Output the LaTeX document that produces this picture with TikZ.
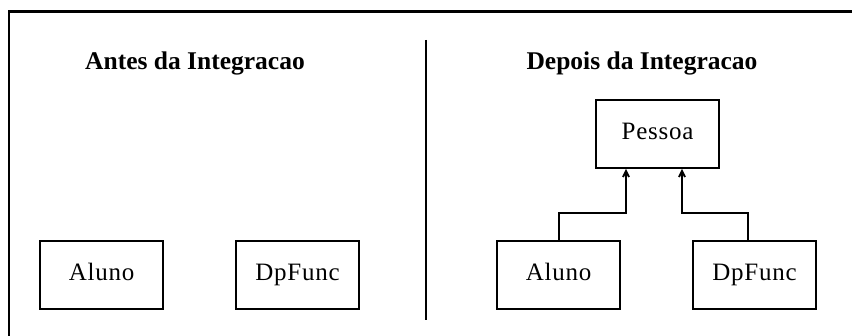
\documentclass[tikz,border=0pt]{standalone}
\usepackage{fontspec}
\setmainfont{Liberation Serif}
\usetikzlibrary{arrows.meta}
\begin{document}
\begin{tikzpicture}[x=1pt,y=-1pt,
  cls/.style={draw, line width=1.9pt, minimum width=123pt, minimum height=68pt, inner sep=0pt,
    text height=16pt, text depth=5pt,
    font=\fontsize{25}{27}\selectfont\addfontfeatures{LetterSpace=3}},
  ttl/.style={font=\fontsize{25.5}{28}\selectfont\bfseries, inner sep=0pt},
  frm/.style={line width=2.2pt},
  gen/.style={line width=1.9pt, -{Straight Barb[length=6pt,width=6pt]}}]
\useasboundingbox (0,0) rectangle (852,336);
\coordinate (tl) at (9,11.5);
\coordinate (tr) at (852,11.5);
\coordinate (bl) at (9,336);
\draw[frm] (tr) -- (tl) -- (bl);
\coordinate (dtop) at (426,40);
\coordinate (dbot) at (426,320);
\draw[frm] (dtop) -- (dbot);
\node[ttl] (t1) at (195,63) {Antes da Integracao};
\node[ttl] (t2) at (642,63) {Depois da Integracao};
\node[cls] (a1) at (101.5,275) {Aluno};
\node[cls] (d1) at (297.5,275) {DpFunc};
\node[cls] (p) at (657.5,134) {Pessoa};
\node[cls] (a2) at (558.5,275) {Aluno};
\node[cls] (d2) at (754.5,275) {DpFunc};
\coordinate (b1) at (559,213);
\coordinate (b2) at (626,213);
\coordinate (b3) at (748,213);
\coordinate (b4) at (682,213);
\draw[gen] (a2.north -| b1) -- (b1) -- (b2) -- (b2 |- p.south);
\draw[gen] (d2.north -| b3) -- (b3) -- (b4) -- (b4 |- p.south);
\end{tikzpicture}
\end{document}
